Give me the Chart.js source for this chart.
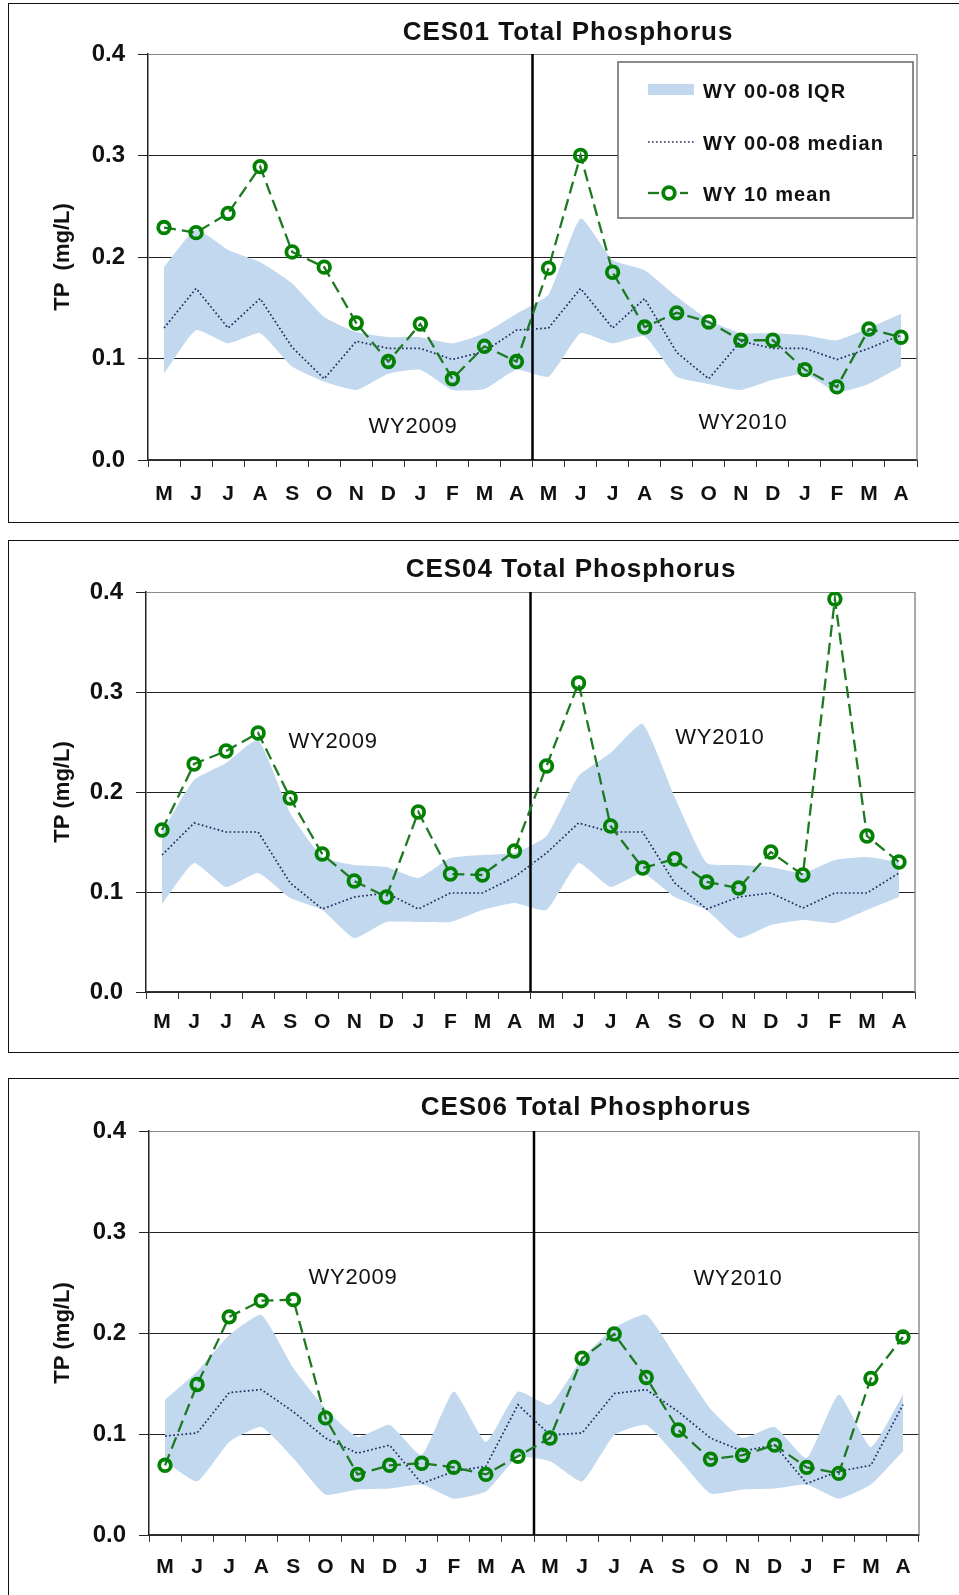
<!DOCTYPE html>
<html>
<head>
<meta charset="utf-8">
<script src="https://cdn.jsdelivr.net/npm/chart.js@4.4.1/dist/chart.umd.min.js"></script>
<style>
  html, body { margin: 0; padding: 0; background: #fff; width: 959px; height: 1595px; overflow: hidden; }
  .frame { position: absolute; left: 8px; width: 1000px; border: 1px solid #111; box-sizing: border-box; }
  canvas { position: absolute; left: 0; }
</style>
</head>
<body>
<div class="frame" style="top:3px;height:520px"></div>
<div class="frame" style="top:540px;height:513px"></div>
<div class="frame" style="top:1078px;height:600px"></div>
<canvas id="ces01" width="959" height="519" style="top:3px"></canvas>
<canvas id="ces04" width="959" height="512" style="top:540px"></canvas>
<canvas id="ces06" width="959" height="517" style="top:1078px"></canvas>
<script>
// months of WY2009 and WY2010 (May - April)
const months = ["M","J","J","A","S","O","N","D","J","F","M","A",
                "M","J","J","A","S","O","N","D","J","F","M","A"];
const yTicks = [0, 0.1, 0.2, 0.3, 0.4];

// CES01
const ces01Mean   = [0.229,0.224,0.243,0.289,0.205,0.190,0.135,0.097,0.134,0.080,0.112,0.097,
                     0.189,0.300,0.185,0.131,0.145,0.136,0.118,0.118,0.089,0.072,0.129,0.121];
const ces01Median = [0.130,0.169,0.130,0.159,0.111,0.080,0.117,0.110,0.110,0.099,0.107,0.128,
                     0.130,0.169,0.130,0.159,0.106,0.080,0.117,0.110,0.110,0.099,0.110,0.123];
const ces01Q3     = [0.190,0.227,0.207,0.195,0.174,0.141,0.126,0.121,0.121,0.115,0.125,0.144,
                     0.163,0.238,0.197,0.187,0.161,0.138,0.125,0.125,0.123,0.118,0.130,0.144];
const ces01Q1     = [0.085,0.128,0.115,0.125,0.092,0.077,0.069,0.085,0.089,0.069,0.070,0.089,
                     0.082,0.125,0.115,0.122,0.082,0.075,0.069,0.079,0.085,0.067,0.075,0.092];

// CES04
const ces04Mean   = [0.162,0.228,0.241,0.259,0.194,0.138,0.111,0.095,0.180,0.118,0.117,0.141,
                     0.226,0.309,0.166,0.124,0.133,0.110,0.104,0.140,0.117,0.393,0.156,0.130];
const ces04Median = [0.137,0.169,0.160,0.160,0.109,0.083,0.095,0.099,0.083,0.099,0.099,0.115,
                     0.139,0.169,0.160,0.160,0.109,0.083,0.095,0.099,0.084,0.099,0.099,0.119];
const ces04Q3     = [0.160,0.212,0.229,0.252,0.179,0.135,0.127,0.125,0.114,0.134,0.137,0.139,
                     0.156,0.216,0.239,0.268,0.195,0.129,0.127,0.125,0.119,0.132,0.135,0.130];
const ces04Q1     = [0.088,0.129,0.105,0.119,0.094,0.082,0.054,0.070,0.070,0.070,0.082,0.089,
                     0.082,0.129,0.105,0.119,0.095,0.082,0.054,0.067,0.072,0.069,0.082,0.095];

// CES06
const ces06Mean   = [0.069,0.149,0.216,0.232,0.233,0.116,0.060,0.069,0.071,0.067,0.060,0.078,
                     0.096,0.175,0.199,0.156,0.104,0.075,0.079,0.089,0.067,0.061,0.155,0.196];
const ces06Median = [0.098,0.101,0.141,0.144,0.122,0.096,0.081,0.089,0.051,0.063,0.068,0.129,
                     0.099,0.101,0.140,0.144,0.122,0.096,0.083,0.089,0.051,0.063,0.069,0.129];
const ces06Q3     = [0.134,0.162,0.198,0.218,0.165,0.125,0.097,0.109,0.079,0.142,0.092,0.142,
                     0.129,0.175,0.205,0.218,0.172,0.125,0.096,0.107,0.076,0.139,0.087,0.139];
const ces06Q1     = [0.073,0.053,0.092,0.107,0.076,0.040,0.045,0.046,0.050,0.036,0.043,0.077,
                     0.073,0.053,0.099,0.109,0.076,0.041,0.045,0.046,0.050,0.036,0.050,0.083];

const FONT = "'Liberation Sans', Arial, sans-serif";
const GREEN = "#038103";
const GREEN_LINE = "#1d7a22";
const NAVY = "#1c2c5c";
const BAND = "rgb(193,216,238)";
const INK = "#111";

const panels = [
  { id: "ces01", title: "CES01 Total Phosphorus", titleX: 568, titleY: 30, yTitle: "TP  (mg/L)",
    mean: ces01Mean, median: ces01Median, q1: ces01Q1, q3: ces01Q3,
    area: { top: 51, bottom: 457, left: 148, right: 917 }, tickPad: 15, legend: true,
    wy: [[7.77, 0.033, "WY2009"], [18.07, 0.037, "WY2010"]] },
  { id: "ces04", title: "CES04 Total Phosphorus", titleX: 571, titleY: 30, yTitle: "TP (mg/L)",
    mean: ces04Mean, median: ces04Median, q1: ces04Q1, q3: ces04Q3,
    area: { top: 52, bottom: 452, left: 146, right: 915 }, tickPad: 11, legend: false,
    wy: [[5.34, 0.250, "WY2009"], [17.41, 0.254, "WY2010"]] },
  { id: "ces06", title: "CES06 Total Phosphorus", titleX: 586, titleY: 30, yTitle: "TP (mg/L)",
    mean: ces06Mean, median: ces06Median, q1: ces06Q1, q3: ces06Q3,
    area: { top: 53, bottom: 457, left: 149, right: 919 }, tickPad: 13, legend: false,
    wy: [[5.86, 0.255, "WY2009"], [17.86, 0.254, "WY2010"]] }
];

function drawLegend(ctx, ca) {
  const x = ca.right - 299, y = ca.top + 8, w = 295, h = 156;
  ctx.save();
  ctx.fillStyle = "#fff";
  ctx.fillRect(x, y, w, h);
  ctx.strokeStyle = "#666";
  ctx.lineWidth = 1.5;
  ctx.strokeRect(x, y, w, h);

  const rows = [y + 28, y + 80, y + 131];
  const sx = x + 30, ex = x + 76;
  // IQR swatch
  ctx.fillStyle = BAND;
  ctx.fillRect(sx, rows[0] - 6, ex - sx, 11);
  // median
  ctx.strokeStyle = NAVY;
  ctx.lineWidth = 1.6;
  ctx.setLineDash([1.6, 2.4]);
  ctx.beginPath(); ctx.moveTo(sx, rows[1]); ctx.lineTo(ex, rows[1]); ctx.stroke();
  // mean
  ctx.strokeStyle = GREEN_LINE;
  ctx.lineWidth = 2.3;
  ctx.setLineDash([]);
  ctx.beginPath(); ctx.moveTo(sx, rows[2]); ctx.lineTo(sx + 11, rows[2]); ctx.stroke();
  ctx.beginPath(); ctx.moveTo(sx + 32, rows[2]); ctx.lineTo(sx + 40, rows[2]); ctx.stroke();
  ctx.strokeStyle = GREEN;
  ctx.lineWidth = 3.8;
  ctx.beginPath(); ctx.arc(sx + 21, rows[2], 5.8, 0, Math.PI * 2); ctx.stroke();

  ctx.fillStyle = INK;
  ctx.font = "bold 20px " + FONT;
  ctx.letterSpacing = "1.1px";
  ctx.textAlign = "left";
  ctx.textBaseline = "middle";
  ctx.fillText("WY 00-08 IQR", x + 85, rows[0] + 2);
  ctx.fillText("WY 00-08 median", x + 85, rows[1] + 2);
  ctx.fillText("WY 10 mean", x + 85, rows[2] + 2);
  ctx.restore();
}

function decor(p) {
  return {
    id: "decor",
    afterDatasetDraw(chart, args) {
      // divider between the two water years, drawn over the IQR band
      if (args.index !== 2) return;
      const ctx = chart.ctx, ca = chart.chartArea, xs = chart.scales.x;
      const xDiv = (xs.getPixelForValue(11) + xs.getPixelForValue(12)) / 2;
      ctx.save();
      ctx.strokeStyle = "#000";
      ctx.lineWidth = 2.5;
      ctx.beginPath(); ctx.moveTo(xDiv, ca.top); ctx.lineTo(xDiv, ca.bottom); ctx.stroke();
      ctx.restore();
    },
    afterDatasetsDraw(chart) {
      const ctx = chart.ctx, ca = chart.chartArea, xs = chart.scales.x, ys = chart.scales.y;
      ctx.save();
      ctx.strokeStyle = "#8c8c8c";
      ctx.lineWidth = 1.5;
      ctx.beginPath(); ctx.moveTo(ca.right, ca.top); ctx.lineTo(ca.right, ca.bottom); ctx.stroke();
      ctx.fillStyle = INK;
      ctx.font = "22px " + FONT;
      ctx.letterSpacing = "0.8px";
      ctx.textAlign = "center";
      ctx.textBaseline = "middle";
      p.wy.forEach(([i, v, txt]) => ctx.fillText(txt, xs.getPixelForValue(i), ys.getPixelForValue(v)));
      ctx.restore();
    },
    afterDraw(chart) {
      const ctx = chart.ctx;
      ctx.save();
      ctx.fillStyle = INK;
      ctx.font = "bold 26px " + FONT;
      ctx.letterSpacing = "1px";
      ctx.textAlign = "center";
      ctx.textBaseline = "middle";
      ctx.fillText(p.title, p.titleX, p.titleY);
      ctx.restore();
      if (p.legend) drawLegend(ctx, chart.chartArea);
    }
  };
}

function makeChart(p) {
  const canvas = document.getElementById(p.id);
  const H = canvas.height;
  new Chart(canvas, {
    type: "line",
    data: {
      labels: months,
      datasets: [
        { label: "WY 10 mean", data: p.mean, borderColor: GREEN_LINE, borderWidth: 2.3,
          borderDash: [12, 6], pointRadius: 5.8, pointBorderWidth: 3.8,
          pointBorderColor: GREEN, pointBackgroundColor: "rgba(255,255,255,0)", fill: false, tension: 0 },
        { label: "WY 00-08 median", data: p.median, borderColor: NAVY, borderWidth: 1.7,
          borderDash: [1.7, 2.4], pointRadius: 0, fill: false, tension: 0 },
        { label: "WY 00-08 IQR", data: p.q3, borderWidth: 0, borderColor: BAND, pointRadius: 0,
          backgroundColor: BAND, fill: "+1", tension: 0.15 },
        { label: "IQR low", data: p.q1, borderWidth: 0, borderColor: BAND, pointRadius: 0,
          fill: false, tension: 0.15 }
      ]
    },
    options: {
      responsive: false,
      animation: false,
      layout: { padding: { left: 0, top: p.area.top, right: canvas.width - p.area.right, bottom: 0 } },
      plugins: { legend: { display: false }, tooltip: { enabled: false }, title: { display: false } },
      scales: {
        x: {
          offset: true,
          grid: { offset: true, drawOnChartArea: false, tickLength: 7, color: "#333", lineWidth: 1 },
          border: { color: "#333", width: 1.5 },
          ticks: { autoSkip: false, maxRotation: 0, padding: p.tickPad, color: INK,
                   font: { family: FONT, size: 21, weight: "bold" } },
          afterFit: s => { s.height = H - p.area.bottom; }
        },
        y: {
          min: 0, max: 0.4,
          afterBuildTicks: s => { s.ticks = yTicks.map(v => ({ value: v })); },
          grid: { color: c => (c.tick && c.tick.value >= 0.4 ? "#8c8c8c" : "#222"),
                  tickColor: "#222", tickLength: 10, lineWidth: 1 },
          border: { color: "#222", width: 1.5 },
          ticks: { padding: 13, color: INK, font: { family: FONT, size: 24, weight: "bold" },
                   callback: v => v.toFixed(1) },
          title: { display: true, text: p.yTitle, color: INK,
                   font: { family: FONT, size: 22, weight: "bold" }, padding: { top: 50, bottom: 0 } },
          afterFit: s => { s.width = p.area.left; }
        }
      }
    },
    plugins: [decor(p)]
  });
}

panels.forEach(makeChart);
</script>
</body>
</html>
